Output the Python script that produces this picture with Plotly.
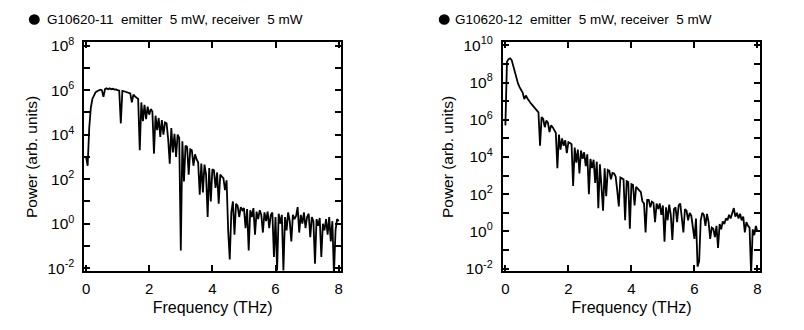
import plotly.graph_objects as go

# ---------------- data ----------------
freq_thz = [
    0.00, 0.05, 0.10, 0.15, 0.20, 0.25, 0.30, 0.35, 0.40, 0.45,
    0.50, 0.55, 0.60, 0.65, 0.70, 0.75, 0.80, 0.85, 0.90, 0.95,
    1.00, 1.05, 1.10, 1.15, 1.20, 1.25, 1.30, 1.35, 1.40, 1.45,
    1.50, 1.55, 1.60, 1.65, 1.70, 1.75, 1.80, 1.85, 1.90, 1.95,
    2.00, 2.05, 2.10, 2.15, 2.20, 2.25, 2.30, 2.35, 2.40, 2.45,
    2.50, 2.55, 2.60, 2.65, 2.70, 2.75, 2.80, 2.85, 2.90, 2.95,
    3.00, 3.05, 3.10, 3.15, 3.20, 3.25, 3.30, 3.35, 3.40, 3.45,
    3.50, 3.55, 3.60, 3.65, 3.70, 3.75, 3.80, 3.85, 3.90, 3.95,
    4.00, 4.05, 4.10, 4.15, 4.20, 4.25, 4.30, 4.35, 4.40, 4.45,
    4.50, 4.55, 4.60, 4.65, 4.70, 4.75, 4.80, 4.85, 4.90, 4.95,
    5.00, 5.05, 5.10, 5.15, 5.20, 5.25, 5.30, 5.35, 5.40, 5.45,
    5.50, 5.55, 5.60, 5.65, 5.70, 5.75, 5.80, 5.85, 5.90, 5.95,
    6.00, 6.05, 6.10, 6.15, 6.20, 6.25, 6.30, 6.35, 6.40, 6.45,
    6.50, 6.55, 6.60, 6.65, 6.70, 6.75, 6.80, 6.85, 6.90, 6.95,
    7.00, 7.05, 7.10, 7.15, 7.20, 7.25, 7.30, 7.35, 7.40, 7.45,
    7.50, 7.55, 7.60, 7.65, 7.70, 7.75, 7.80, 7.85, 7.90, 7.95,
    8.00,
]

power_g10620_11 = [
    1e3, 4e2, 2e4, 1.6e5, 4e5, 6.3e5, 7.9e5, 8.9e5, 1e6, 1.05e6,
    1e6, 5e5, 1.1e6, 1.2e6, 1.1e6, 1.2e6, 1.1e6, 1.15e6, 1.05e6, 1.07e6,
    1e6, 9.5e5, 3.2e4, 9.3e5, 8.9e5, 8.5e5, 7.9e5, 7.6e5, 7.1e5, 2.8e5,
    6.3e5, 5.2e5, 4.5e5, 4e5, 2e3, 2.8e5, 4e4, 2.2e5, 5e4, 1.8e5,
    7.9e4, 1.4e5, 1.1e5, 1.4e3, 7.1e4, 1.6e4, 5.6e4, 7.9e3, 4.5e4, 1e4,
    3.5e4, 3.2e4, 6.3e3, 5e2, 2e4, 1.6e3, 1.1e4, 1e3, 1e4, 7.1e3,
    6.3e-2, 5e3, 7.9e1, 3.2e3, 2.8e3, 1.6e2, 2.2e3, 2e3, 4e2, 1.3e3,
    7.9e2, 5.6e2, 2e1, 5e2, 2.5e1, 4.5e2, 1.6e2, 2, 3.2e2, 1e1,
    2.8e2, 2.5e2, 4e1, 2e2, 7.9, 1.6e2, 1.3e2, 1.1e2, 3.2e1, 8.9e1,
    0.5, 0.025, 3.2, 10, 0.32, 7.9, 6.3, 2, 5.6, 4,
    5, 0.63, 4.5, 0.063, 4, 2, 5, 0.32, 3.5, 1.6,
    4, 2.5, 0.4, 3.2, 1.3, 3.5, 0.63, 2.5, 3.2, 0.032,
    2, 0.008, 2.8, 1, 2.5, 0.008, 2, 0.5, 3.2, 1.3,
    0.16, 2.5, 1.6, 2.2, 5.6, 0.4, 2.5, 1, 3.2, 0.63,
    2, 2.8, 0.25, 2, 1.3, 0.016, 1.6, 0.8, 1.8, 0.032,
    1, 0.5, 1.6, 0.32, 2, 0.16, 1.3, 0.005, 0.5, 1.6,
    1.3,
]

power_g10620_12 = [
    5e5, 1.3e9, 1.8e9, 2e9, 1.6e9, 7.1e8, 3.5e8, 1.8e8, 8.9e7, 5.6e7,
    4e7, 2.8e7, 1.3e7, 2e7, 1.4e7, 1e7, 7.9e6, 6.3e6, 5e6, 4e6,
    3.2e6, 2.5e6, 4e4, 1.4e6, 1.1e6, 4e5, 8.9e5, 7.1e5, 2.2e5, 5e5,
    4e5, 2.8e5, 2e5, 2.5e3, 1.6e5, 2.5e4, 1e5, 4e4, 7.9e4, 1.6e4,
    6.3e4, 5.6e4, 4.8e4, 2.8e2, 3.2e4, 5e3, 2.5e4, 1.3e3, 2.2e4, 7.9e3,
    1.8e4, 3.2e3, 1.4e4, 1e2, 7.9e3, 2.5e3, 7.1e3, 4e2, 5.6e3, 1.8e1,
    4e3, 2.5e2, 1.3e1, 2.5e3, 7.9e1, 2e3, 1.8e3, 6.3e2, 1.4e3, 1.3e3,
    8.9e2, 1.6e2, 2.2e1, 7.9e2, 7.1e2, 6.3e2, 4, 5e2, 4.5e2, 1.4,
    3.5e2, 3.2e2, 2.5e1, 2.5e2, 2e2, 1.6e2, 1.3e2, 4e1, 3.2e1, 0.89,
    5e1, 5e1, 2e1, 4e1, 3.5e1, 3.2, 3.2e1, 1.6e1, 3.2e1, 7.9,
    2.5e1, 0.28, 2e1, 4, 2.8e1, 7.9, 0.35, 1.6e1, 2e1, 3.2,
    2.5e1, 3.2e1, 6.3, 0.89, 1.6e1, 1.3e1, 4, 10, 7.1, 2,
    0.4, 5, 0.013, 0.025, 4, 10, 7.9, 2, 8.9, 3.2,
    0.4, 1.6, 1.4, 0.5, 2, 0.13, 2.5, 1.3, 3.5, 2.5,
    5, 4, 7.9, 5, 10, 1.8e1, 6.3, 10, 5, 8.9,
    4, 6.3, 0.89, 3.2, 2, 1.6, 0.005, 1.3, 0.63, 2,
    1,
]

x_ticks = [0, 2, 4, 6, 8]
y_major_11 = [1e-2, 1e0, 1e2, 1e4, 1e6, 1e8]
y_text_11 = ["10<sup>-2</sup>", "10<sup>0</sup>", "10<sup>2</sup>",
             "10<sup>4</sup>", "10<sup>6</sup>", "10<sup>8</sup>"]
y_minor_11 = [1e-1, 1e1, 1e3, 1e5, 1e7]
y_major_12 = [1e-2, 1e0, 1e2, 1e4, 1e6, 1e8, 1e10]
y_text_12 = ["10<sup>-2</sup>", "10<sup>0</sup>", "10<sup>2</sup>",
             "10<sup>4</sup>", "10<sup>6</sup>", "10<sup>8</sup>", "10<sup>10</sup>"]
y_minor_12 = [1e-1, 1e1, 1e3, 1e5, 1e7, 1e9]

title_11 = "G10620-11\u00a0\u00a0emitter\u00a0\u00a05 mW, receiver\u00a0\u00a05 mW"
title_12 = "G10620-12\u00a0\u00a0emitter\u00a0\u00a05 mW, receiver\u00a0\u00a05 mW"

# ---------------- figure ----------------
W, H = 804, 330
FONT = "Liberation Sans, Arial, Helvetica, sans-serif"

fig = go.Figure()
fig.add_trace(go.Scatter(x=freq_thz, y=power_g10620_11, mode="lines",
                         line=dict(color="black", width=1.8),
                         xaxis="x", yaxis="y", showlegend=False))
fig.add_trace(go.Scatter(x=freq_thz, y=power_g10620_12, mode="lines",
                         line=dict(color="black", width=1.8),
                         xaxis="x2", yaxis="y2", showlegend=False))


def px_x(p):
    return p / W


def px_y(p):
    return 1 - p / H


common_x = dict(
    tickmode="array", tickvals=x_ticks, ticks="inside", ticklen=6, tickwidth=1.5,
    tickcolor="black", showline=True, linecolor="black", linewidth=2,
    mirror="ticks", showgrid=False, zeroline=False, ticklabelstandoff=3,
    tickfont=dict(family=FONT, size=15, color="black"),
    title=dict(text="Frequency (THz)", font=dict(family=FONT, size=16, color="black"),
               standoff=5),
)
common_y = dict(
    type="log", tickmode="array", ticks="inside", ticklen=6, tickwidth=1.5,
    tickcolor="black", showline=True, linecolor="black", linewidth=2,
    mirror="ticks", showgrid=False, zeroline=False, ticklabelstandoff=5,
    tickfont=dict(family=FONT, size=15.5, color="black"),
    title=dict(text="Power (arb. units)", font=dict(family=FONT, size=15.5, color="black"),
               standoff=6),
)

ydom = [px_y(275), px_y(36)]

fig.update_layout(
    width=W, height=H,
    margin=dict(l=0, r=0, t=0, b=0),
    paper_bgcolor="white", plot_bgcolor="white",
    font=dict(family=FONT, color="black"),
    xaxis=dict(common_x, domain=[px_x(82), px_x(340)], range=[-0.05, 8.07], anchor="y"),
    yaxis=dict(common_y, domain=ydom, range=[-2.14, 8.14], anchor="x",
               tickvals=y_major_11, ticktext=y_text_11,
               minor=dict(tickmode="array", tickvals=y_minor_11, ticks="inside",
                          ticklen=6, tickwidth=1.5, tickcolor="black", showgrid=False)),
    xaxis2=dict(common_x, domain=[px_x(503), px_x(762)], range=[-0.08, 8.09], anchor="y2"),
    yaxis2=dict(common_y, domain=ydom, range=[-2.14, 10.15], anchor="x2",
                tickvals=y_major_12, ticktext=y_text_12,
                minor=dict(tickmode="array", tickvals=y_minor_12, ticks="inside",
                           ticklen=6, tickwidth=1.5, tickcolor="black", showgrid=False)),
)

# titles with bullet
for cx, tx, txt in [(31.5, 42, title_11), (444, 453, title_12)]:
    fig.add_shape(type="circle", xref="paper", yref="paper",
                  x0=px_x(cx - 5.5), x1=px_x(cx + 5.5),
                  y0=px_y(12 + 5.5), y1=px_y(12 - 5.5),
                  fillcolor="black", line=dict(color="black", width=0))
    fig.add_annotation(text=txt, xref="paper", yref="paper",
                       x=px_x(tx), y=px_y(12), xanchor="left", yanchor="middle",
                       showarrow=False,
                       font=dict(family=FONT, size=13.5, color="black"))

fig.write_html("out.html")
